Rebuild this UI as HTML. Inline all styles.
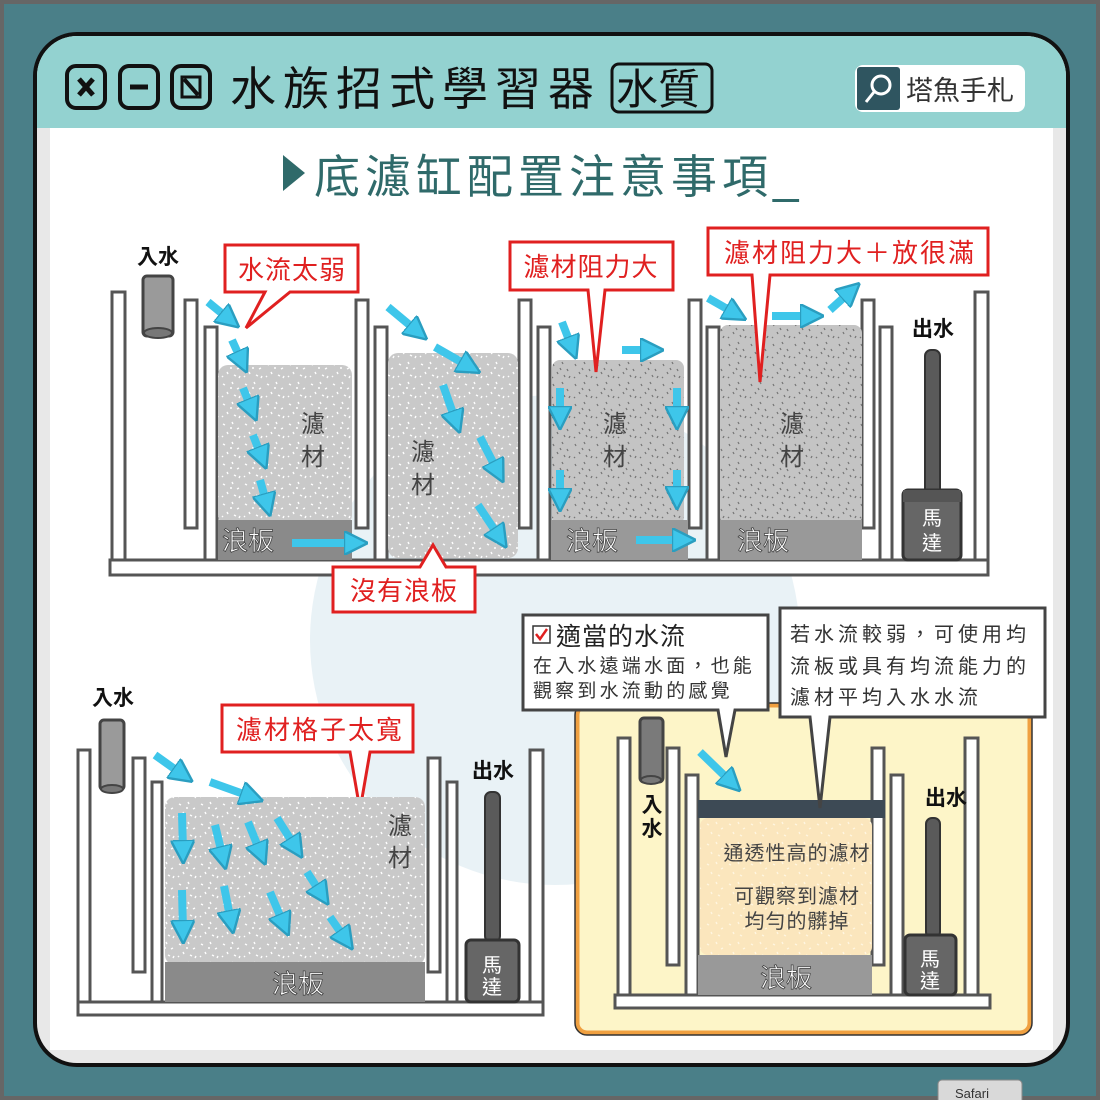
<!DOCTYPE html>
<html><head><meta charset="utf-8"><style>
html,body{margin:0;padding:0;background:#4a7f88;}
svg{display:block;}
text{font-family:"Liberation Sans","Noto Sans CJK TC",sans-serif;}
</style></head><body>
<svg width="1100" height="1100" viewBox="0 0 1100 1100" xmlns="http://www.w3.org/2000/svg">
<defs>
<pattern id="sp" width="22" height="20" patternUnits="userSpaceOnUse">
<rect width="22" height="20" fill="#c9c9c9"/>
<path d="M3 4l2 1M12 2l1 2M17 9l2-1M7 12l1 2M14 15l2 1M2 17l1-1M19 18l1-2M10 8l2 0" stroke="#fff" stroke-width="1.4"/>
</pattern>
<pattern id="sp2" width="22" height="20" patternUnits="userSpaceOnUse">
<rect width="22" height="20" fill="#c4c4c4"/>
<path d="M3 4l1 2M12 2l1 2M17 9l1 2M7 12l1 2M14 15l1 2M2 17l1 1M19 18l1-2M10 8l1 2" stroke="#777" stroke-width="1.3"/>
</pattern>
<pattern id="sp3" width="22" height="20" patternUnits="userSpaceOnUse">
<rect width="22" height="20" fill="#fbe6bd"/>
<path d="M3 4l2 1M12 2l1 2M17 9l2-1M7 12l1 2M14 15l2 1" stroke="#fff6e0" stroke-width="1.4"/>
</pattern>
<marker id="ah" viewBox="0 0 10 10" refX="5" refY="5" markerWidth="3" markerHeight="3" orient="auto"><path d="M0 0L10 5L0 10z" fill="#3ec6ea" stroke="#2a9ec0" stroke-width="1"/></marker>
</defs>
<rect x="0" y="0" width="1100" height="1100" fill="#666"/>
<rect x="4" y="4" width="1092" height="1092" fill="#4a7f88"/>
<rect x="938" y="1080" width="84" height="24" rx="4" fill="#d9d9d9" stroke="#888"/>
<text x="955" y="1098" font-size="13" fill="#333">Safari</text>
<!-- panel -->
<rect x="35" y="34" width="1033" height="1031" rx="42" fill="#e8e8e8" stroke="#111" stroke-width="4"/>
<path d="M37 128 V76 A40 40 0 0 1 77 36 H1026 A40 40 0 0 1 1066 76 V128 Z" fill="#93d2d0"/>
<rect x="50" y="128" width="1003" height="922" fill="#fff"/>
<!-- watermark -->
<circle cx="555" cy="640" r="245" fill="#e4eff4" opacity="0.8"/>
<!-- header icons -->
<g fill="none" stroke="#111" stroke-width="4">
<rect x="67" y="66" width="38" height="42" rx="9"/><rect x="120" y="66" width="38" height="42" rx="9"/><rect x="172" y="66" width="38" height="42" rx="9"/>
<path d="M79 79l14 16M93 79l-14 16" stroke-width="5"/><path d="M130 87h18" stroke-width="5"/>
<rect x="182" y="77" width="18" height="20" stroke-width="3"/><path d="M184 79l14 16" stroke-width="4"/>
<rect x="612" y="64" width="100" height="48" rx="7" stroke-width="3"/>
</g>
<text x="230" y="105" font-size="46" fill="#111" letter-spacing="7">水族招式學習器</text>
<text x="616" y="104" font-size="42" fill="#111">水質</text>
<rect x="855" y="65" width="170" height="47" rx="8" fill="#fff"/>
<rect x="857" y="67" width="43" height="43" rx="3" fill="#2f5560"/>
<circle cx="881" cy="85" r="9" fill="none" stroke="#fff" stroke-width="3"/><path d="M874 92l-8 10" stroke="#fff" stroke-width="3"/>
<text x="906" y="100" font-size="27" fill="#333">塔魚手札</text>
<path d="M283 155L305 173L283 191Z" fill="#2f6a6a"/>
<text x="314" y="193" font-size="46" fill="#2f6a6a" letter-spacing="5">底濾缸配置注意事項_</text>

<!-- TOP DIAGRAM -->
<g stroke="#555" stroke-width="3" fill="#fff">
<rect x="110" y="560" width="878" height="15"/>
<rect x="112" y="292" width="13" height="268"/>
<rect x="185" y="300" width="12" height="228"/>
<rect x="205" y="327" width="12" height="233"/>
<rect x="356" y="300" width="12" height="228"/>
<rect x="375" y="327" width="12" height="233"/>
<rect x="519" y="300" width="12" height="228"/>
<rect x="538" y="327" width="12" height="233"/>
<rect x="689" y="300" width="12" height="228"/>
<rect x="707" y="327" width="12" height="233"/>
<rect x="862" y="300" width="12" height="228"/>
<rect x="880" y="327" width="12" height="233"/>
<rect x="975" y="292" width="13" height="268"/>
</g>
<rect x="218" y="365" width="134" height="160" rx="10" fill="url(#sp)"/>
<rect x="218" y="520" width="134" height="40" fill="#8a8a8a"/>
<rect x="388" y="353" width="130" height="205" rx="10" fill="url(#sp)"/>
<rect x="552" y="360" width="132" height="165" rx="8" fill="url(#sp2)"/>
<rect x="551" y="520" width="137" height="40" fill="#999"/>
<rect x="720" y="325" width="142" height="200" rx="8" fill="url(#sp2)"/>
<rect x="720" y="520" width="142" height="40" fill="#999"/>
<rect x="143" y="276" width="30" height="60" rx="4" fill="#9a9a9a" stroke="#444" stroke-width="3"/>
<ellipse cx="158" cy="333" rx="14" ry="5" fill="#777" stroke="#444" stroke-width="2"/>
<rect x="925" y="350" width="15" height="145" rx="6" fill="#5a5a5a" stroke="#333" stroke-width="2"/>
<rect x="903" y="490" width="58" height="70" rx="5" fill="#666" stroke="#333" stroke-width="3"/>
<rect x="903" y="490" width="58" height="12" fill="#555"/>
<g font-size="24" fill="#444" text-anchor="middle">
<text x="313" y="432">濾</text><text x="313" y="465">材</text>
<text x="423" y="460">濾</text><text x="423" y="493">材</text>
<text x="615" y="432">濾</text><text x="615" y="465">材</text>
<text x="792" y="432">濾</text><text x="792" y="465">材</text>
</g>
<g font-size="26" fill="#fff" stroke="#444" stroke-width="0.8">
<text x="222" y="550">浪板</text><text x="566" y="550">浪板</text><text x="737" y="550">浪板</text>
</g>
<g font-size="20" fill="#fff" text-anchor="middle"><text x="932" y="525">馬</text><text x="932" y="550">達</text></g>
<g font-size="21" fill="#111" font-weight="bold" text-anchor="middle"><text x="158" y="264">入水</text><text x="933" y="336">出水</text></g>
<!-- arrows top -->
<g stroke="#3ec6ea" stroke-width="8" marker-end="url(#ah)" fill="none">
<line x1="208" y1="302" x2="230" y2="320"/><line x1="232" y1="340" x2="242" y2="362"/>
<line x1="243" y1="388" x2="252" y2="410"/><line x1="253" y1="435" x2="262" y2="458"/>
<line x1="260" y1="480" x2="267" y2="505"/><line x1="292" y1="543" x2="356" y2="543"/>
<line x1="388" y1="307" x2="418" y2="332"/><line x1="435" y1="347" x2="470" y2="367"/>
<line x1="443" y1="385" x2="456" y2="422"/><line x1="480" y1="437" x2="498" y2="472"/>
<line x1="478" y1="505" x2="500" y2="538"/>
<line x1="562" y1="322" x2="572" y2="348"/><line x1="622" y1="350" x2="652" y2="350"/>
<line x1="560" y1="388" x2="560" y2="418"/><line x1="677" y1="388" x2="677" y2="418"/>
<line x1="560" y1="470" x2="560" y2="500"/><line x1="677" y1="470" x2="677" y2="498"/>
<line x1="636" y1="540" x2="684" y2="540"/>
<line x1="708" y1="298" x2="736" y2="314"/><line x1="772" y1="316" x2="812" y2="316"/>
<line x1="830" y1="310" x2="851" y2="291"/>
</g>
<!-- red callouts -->
<g fill="#fff" stroke="#e02020" stroke-width="3">
<path d="M225 245H358V292H290L246 328L265 292H225Z"/>
<path d="M510 242H673V290H605L596 372L588 290H510Z"/>
<path d="M708 228H988V275H770L760 382L752 275H708Z"/>
<path d="M333 567H420L433 545L446 567H475V612H333Z"/>
<path d="M222 705H413V752H370L360 810L350 752H222Z"/>
</g>
<g font-size="26" fill="#e02020" text-anchor="middle">
<text x="292" y="279" letter-spacing="1">水流太弱</text><text x="591" y="276" letter-spacing="1">濾材阻力大</text>
<text x="850" y="262" letter-spacing="2">濾材阻力大＋放很滿</text><text x="404" y="600" letter-spacing="1">沒有浪板</text>
<text x="320" y="739" letter-spacing="2">濾材格子太寬</text>
</g>

<!-- BOTTOM LEFT -->
<g stroke="#555" stroke-width="3" fill="#fff">
<rect x="78" y="1002" width="465" height="13"/>
<rect x="78" y="750" width="12" height="252"/>
<rect x="133" y="758" width="12" height="214"/>
<rect x="152" y="782" width="10" height="220"/>
<rect x="428" y="758" width="12" height="214"/>
<rect x="447" y="782" width="10" height="220"/>
<rect x="530" y="750" width="13" height="252"/>
</g>
<rect x="165" y="797" width="260" height="168" rx="10" fill="url(#sp)"/>
<rect x="165" y="962" width="260" height="40" fill="#8a8a8a"/>
<rect x="100" y="720" width="24" height="70" rx="4" fill="#9a9a9a" stroke="#444" stroke-width="3"/>
<ellipse cx="112" cy="789" rx="11" ry="4" fill="#777" stroke="#444" stroke-width="2"/>
<rect x="485" y="792" width="15" height="150" rx="6" fill="#5a5a5a" stroke="#333" stroke-width="2"/>
<rect x="466" y="940" width="53" height="62" rx="5" fill="#666" stroke="#333" stroke-width="3"/>
<g font-size="20" fill="#fff" text-anchor="middle"><text x="492" y="972">馬</text><text x="492" y="994">達</text></g>
<text x="272" y="993" font-size="26" fill="#fff" stroke="#444" stroke-width="0.8">浪板</text>
<g font-size="24" fill="#444" text-anchor="middle"><text x="400" y="834">濾</text><text x="400" y="866">材</text></g>
<g font-size="21" fill="#111" font-weight="bold" text-anchor="middle"><text x="113" y="705">入水</text><text x="493" y="778">出水</text></g>
<g stroke="#3ec6ea" stroke-width="8" marker-end="url(#ah)" fill="none">
<line x1="155" y1="755" x2="183" y2="775"/><line x1="210" y1="782" x2="252" y2="797"/>
<line x1="182" y1="813" x2="183" y2="852"/><line x1="215" y1="825" x2="223" y2="858"/>
<line x1="248" y1="822" x2="261" y2="854"/><line x1="277" y1="818" x2="296" y2="848"/>
<line x1="182" y1="890" x2="183" y2="932"/><line x1="224" y1="886" x2="231" y2="922"/>
<line x1="270" y1="892" x2="284" y2="925"/><line x1="307" y1="872" x2="322" y2="895"/>
<line x1="330" y1="917" x2="346" y2="940"/>
</g>

<!-- BOTTOM RIGHT -->
<rect x="577" y="705" width="453" height="328" rx="10" fill="#fdf5c8" stroke="#f0a040" stroke-width="5"/>
<rect x="575" y="703" width="457" height="332" rx="12" fill="none" stroke="#333" stroke-width="1.5"/>
<g stroke="#555" stroke-width="3" fill="#fff">
<rect x="615" y="995" width="375" height="13"/>
<rect x="618" y="738" width="12" height="257"/>
<rect x="667" y="748" width="12" height="217"/>
<rect x="686" y="775" width="12" height="220"/>
<rect x="872" y="748" width="12" height="217"/>
<rect x="891" y="775" width="12" height="220"/>
<rect x="965" y="738" width="13" height="257"/>
</g>
<rect x="698" y="800" width="187" height="18" fill="#3d4a55"/>
<rect x="700" y="818" width="172" height="137" rx="8" fill="url(#sp3)"/>
<rect x="698" y="955" width="174" height="40" fill="#999"/>
<rect x="640" y="718" width="23" height="64" rx="4" fill="#7a7a7a" stroke="#444" stroke-width="3"/>
<ellipse cx="651" cy="780" rx="10" ry="4" fill="#777" stroke="#444" stroke-width="2"/>
<rect x="926" y="818" width="14" height="120" rx="6" fill="#5a5a5a" stroke="#333" stroke-width="2"/>
<rect x="905" y="935" width="51" height="60" rx="5" fill="#666" stroke="#333" stroke-width="3"/>
<g font-size="20" fill="#fff" text-anchor="middle"><text x="930" y="966">馬</text><text x="930" y="988">達</text></g>
<text x="760" y="987" font-size="26" fill="#fff" stroke="#444" stroke-width="0.8">浪板</text>
<g font-size="20" fill="#444" text-anchor="middle" letter-spacing="1">
<text x="797" y="860">通透性高的濾材</text><text x="797" y="903">可觀察到濾材</text><text x="797" y="928">均勻的髒掉</text>
</g>
<g font-size="21" fill="#111" font-weight="bold" text-anchor="middle"><text x="652" y="812">入</text><text x="652" y="836">水</text><text x="946" y="805">出水</text></g>
<line x1="700" y1="752" x2="732" y2="783" stroke="#3ec6ea" stroke-width="8" marker-end="url(#ah)"/>
<g fill="#fff" stroke="#444" stroke-width="3">
<path d="M523 615H768V710H735L726 757L718 710H523Z"/>
<path d="M780 608H1045V717H830L820 808L810 717H780Z"/>
</g>
<rect x="533" y="626" width="17" height="17" fill="#fff" stroke="#333" stroke-width="1.5"/>
<path d="M536 634l4 5l7-10" fill="none" stroke="#e02020" stroke-width="2.5"/>
<text x="556" y="645" font-size="25" fill="#222" letter-spacing="1">適當的水流</text>
<g font-size="19" fill="#333" letter-spacing="3.2"><text x="533" y="672">在入水遠端水面，也能</text><text x="533" y="697">觀察到水流動的感覺</text></g>
<g font-size="20" fill="#333" letter-spacing="4"><text x="790" y="641">若水流較弱，可使用均</text><text x="790" y="673">流板或具有均流能力的</text><text x="790" y="704">濾材平均入水水流</text></g>
</svg>
</body></html>
